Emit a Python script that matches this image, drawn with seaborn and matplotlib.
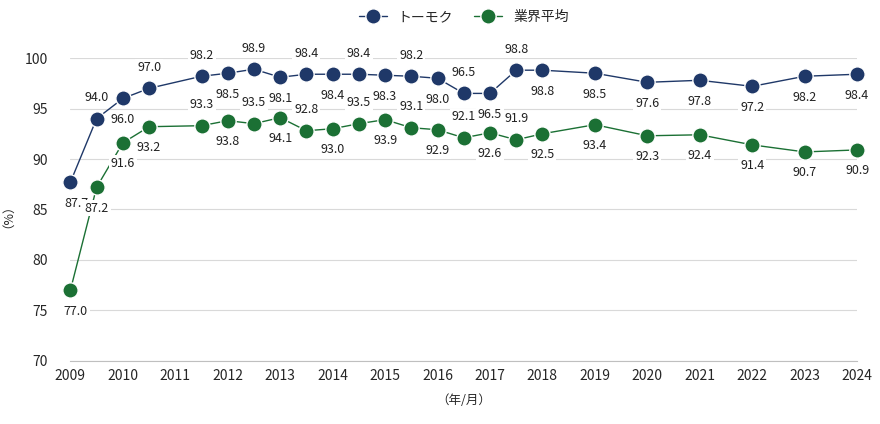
import matplotlib
matplotlib.use('Agg')
import matplotlib.pyplot as plt
import seaborn as sns
import pandas as pd

# データ
x_pos = [2009, 2009.5, 2010, 2010.5, 2011.5, 2012, 2012.5, 2013, 2013.5, 2014, 2014.5, 2015,
         2015.5, 2016, 2016.5, 2017, 2017.5, 2018, 2019, 2020, 2021, 2022, 2023, 2024]
tomoku = [87.7, 94.0, 96.0, 97.0, 98.2, 98.5, 98.9, 98.1, 98.4, 98.4, 98.4, 98.3,
          98.2, 98.0, 96.5, 96.5, 98.8, 98.8, 98.5, 97.6, 97.8, 97.2, 98.2, 98.4]
industry = [77.0, 87.2, 91.6, 93.2, 93.3, 93.8, 93.5, 94.1, 92.8, 93.0, 93.5, 93.9,
            93.1, 92.9, 92.1, 92.6, 91.9, 92.5, 93.4, 92.3, 92.4, 91.4, 90.7, 90.9]
years = list(range(2009, 2025))

# ラベル位置 (a=上, b=下)
tomoku_pos = "babaababababababab" + "bbbbbb"
industry_pos = "bbbbabababababababab"[:18] + "bbbbbb"

df = pd.DataFrame({'x': x_pos * 2,
                   'y': tomoku + industry,
                   's': ['トーモク'] * len(x_pos) + ['業界平均'] * len(x_pos)})

sns.set_style('white')
plt.rcParams['font.family'] = ['Noto Sans CJK JP', 'DejaVu Sans']

colors = {'トーモク': '#1f3868', '業界平均': '#1b7034'}
fig = plt.figure(figsize=(8.8, 4.24), dpi=100)
ax = fig.add_axes([0.08, 0.149, 0.894, 0.714])
sns.lineplot(data=df, x='x', y='y', hue='s', palette=colors, marker='o', markersize=11,
             markeredgecolor='white', markeredgewidth=1, linewidth=1, ax=ax, clip_on=False)

for vals, pos, c in [(tomoku, tomoku_pos, colors['トーモク']), (industry, industry_pos, colors['業界平均'])]:
    for xv, yv, p in zip(x_pos, vals, pos):
        dy = 15 if p == 'a' else -15
        dx = 4 if xv == 2009 else 0
        ax.annotate(f'{yv:.1f}', (xv, yv), xytext=(dx, dy), textcoords='offset points',
                    ha='center', va='center', fontsize=9, color='#222222',
                    bbox=dict(boxstyle='square,pad=0.15', fc='white', ec='none'))

ax.set_ylim(70, 100)
ax.set_xlim(2009, 2024)
ax.set_yticks(range(70, 101, 5))
ax.set_xticks(years)
ax.grid(axis='y', color='#d9d9d9', linewidth=0.8)
for s in ['top', 'right', 'left']:
    ax.spines[s].set_visible(False)
ax.spines['bottom'].set_color('#bfbfbf')
ax.tick_params(axis='x', length=0, labelsize=10, pad=6)
ax.tick_params(axis='y', length=0, labelsize=10, pad=16)
ax.set_xlabel('（年/月）', fontsize=9, labelpad=8)
ax.set_ylabel('（%）', fontsize=9, labelpad=12)

h, l = ax.get_legend_handles_labels()
ax.legend(h, l, loc='upper center', bbox_to_anchor=(0.5, 1.2), ncol=2, frameon=False,
          fontsize=10, handlelength=2, columnspacing=1.5)

fig.savefig('out.png', dpi=100)
